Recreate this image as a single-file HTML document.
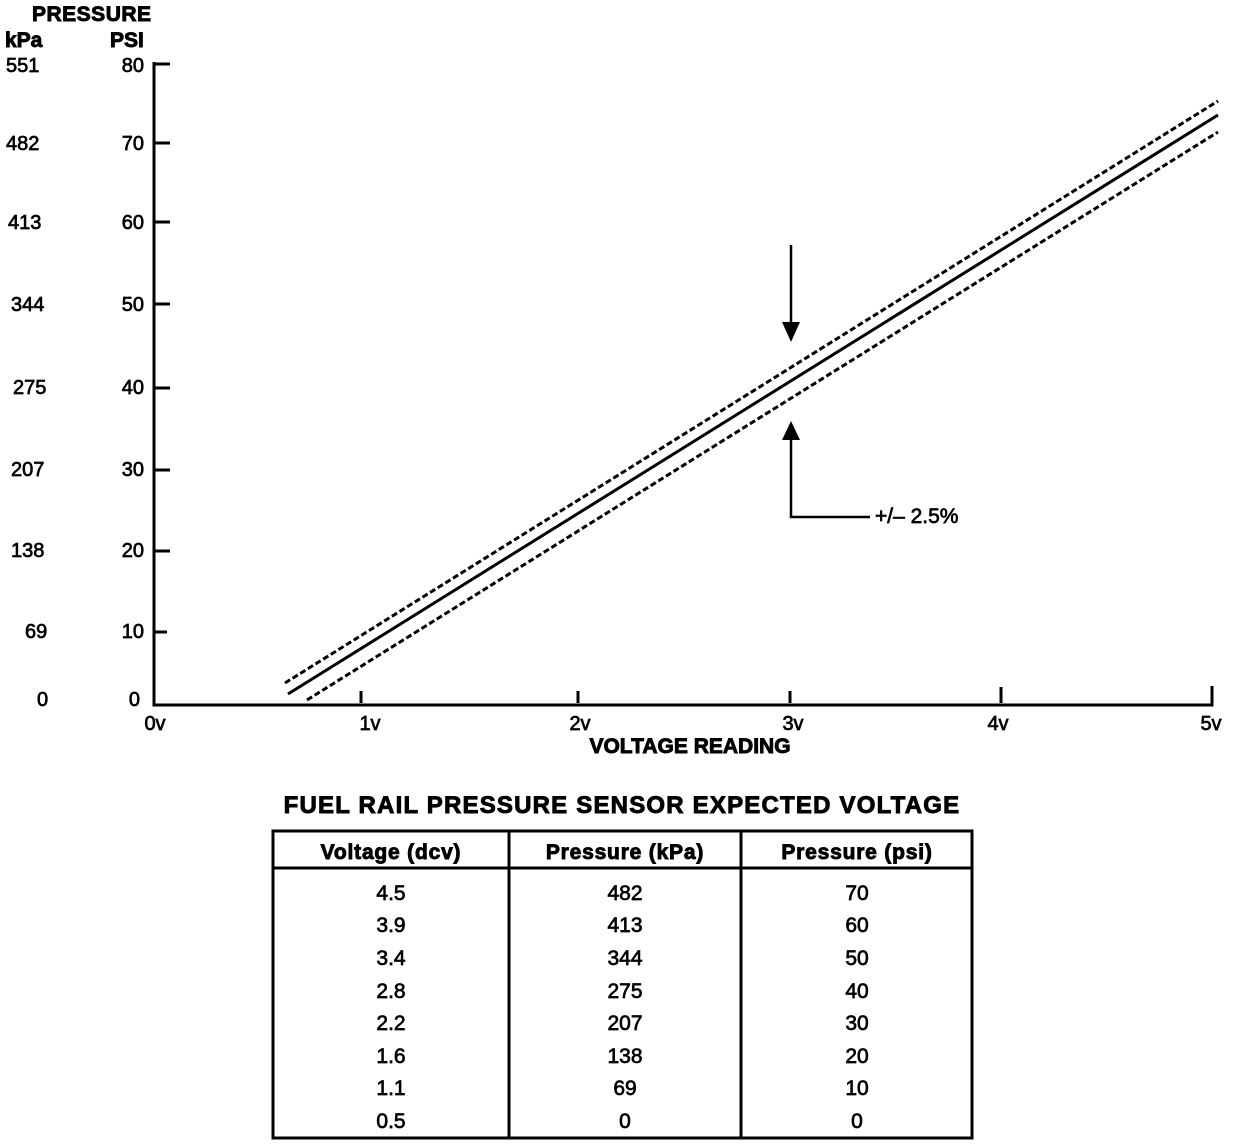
<!DOCTYPE html>
<html><head><meta charset="utf-8"><style>
html,body{margin:0;padding:0;background:#fff;}
svg{display:block;}
text{font-family:"Liberation Sans",sans-serif;fill:#000;stroke:#000;stroke-width:0.7;}
.b{font-weight:bold;stroke-width:0.9;}
</style></head><body>
<svg width="1248" height="1148" viewBox="0 0 1248 1148" xmlns="http://www.w3.org/2000/svg">
<g font-size="20">
<text x="32" y="21" class="b" font-size="21" letter-spacing="0.5">PRESSURE</text>
<text x="5" y="47" class="b" font-size="21">kPa</text>
<text x="110" y="47" class="b" font-size="21">PSI</text>
<g text-anchor="start">
<text x="6" y="72">551</text><text x="6" y="150">482</text><text x="8" y="229">413</text>
<text x="11" y="311">344</text><text x="13" y="394">275</text><text x="11" y="476">207</text>
<text x="11" y="557">138</text><text x="25" y="638">69</text><text x="37" y="706">0</text>
</g>
<g text-anchor="end">
<text x="144" y="72">80</text><text x="144" y="150">70</text><text x="144" y="229">60</text>
<text x="144" y="311">50</text><text x="144" y="394">40</text><text x="144" y="476">30</text>
<text x="144" y="557">20</text><text x="144" y="638">10</text><text x="140" y="706">0</text>
</g>
</g>
<g stroke="#000" stroke-width="3" fill="none">
<path d="M154 62 V705 H1212 V686"/>
<path d="M154 64 H170 M154 143 H170 M154 222 H170 M154 304 H170 M154 388 H170 M154 470 H170 M154 551 H170 M154 632 H167"/>
<path d="M361 703 V691 M578 703 V691 M790 703 V691 M1001 703 V687"/>
<path d="M288 694 L1218 115" stroke-width="3"/>
<path d="M285 683 L1218 101" stroke-dasharray="6,3" stroke-width="3"/>
<path d="M307 700 L1218 132" stroke-dasharray="6,3" stroke-width="3"/>
<path d="M791 245 V336 M791 428 V517 H870" stroke-width="2.5"/>
</g>
<path d="M782 322 L791 342 L800 322 Z M782 440 L791 421 L800 440 Z" fill="#000"/>
<text x="875" y="523" font-size="21">+/– 2.5%</text>
<g font-size="20" text-anchor="middle">
<text x="155" y="730">0v</text><text x="370" y="730">1v</text><text x="580" y="730">2v</text>
<text x="793" y="730">3v</text><text x="998" y="730">4v</text><text x="1211" y="730">5v</text>
<text x="690" y="753" class="b" font-size="21">VOLTAGE READING</text>
<text x="622" y="813" class="b" font-size="24" letter-spacing="1.2">FUEL RAIL PRESSURE SENSOR EXPECTED VOLTAGE</text>
</g>
<g stroke="#000" fill="none">
<rect x="273" y="831" width="699" height="307" stroke-width="3"/>
<path d="M273 868 H972" stroke-width="3"/>
<path d="M509 831 V1138 M741 831 V1138" stroke-width="3"/>
</g>
<g font-size="21" text-anchor="middle">
<text x="391" y="859" class="b" letter-spacing="0.8">Voltage (dcv)</text>
<text x="625" y="859" class="b" letter-spacing="0.8">Pressure (kPa)</text>
<text x="857" y="859" class="b" letter-spacing="0.8">Pressure (psi)</text>
<text x="391" y="900">4.5</text><text x="625" y="900">482</text><text x="857" y="900">70</text>
<text x="391" y="932">3.9</text><text x="625" y="932">413</text><text x="857" y="932">60</text>
<text x="391" y="965">3.4</text><text x="625" y="965">344</text><text x="857" y="965">50</text>
<text x="391" y="998">2.8</text><text x="625" y="998">275</text><text x="857" y="998">40</text>
<text x="391" y="1030">2.2</text><text x="625" y="1030">207</text><text x="857" y="1030">30</text>
<text x="391" y="1063">1.6</text><text x="625" y="1063">138</text><text x="857" y="1063">20</text>
<text x="391" y="1095">1.1</text><text x="625" y="1095">69</text><text x="857" y="1095">10</text>
<text x="391" y="1128">0.5</text><text x="625" y="1128">0</text><text x="857" y="1128">0</text>
</g>
</svg>
</body></html>
